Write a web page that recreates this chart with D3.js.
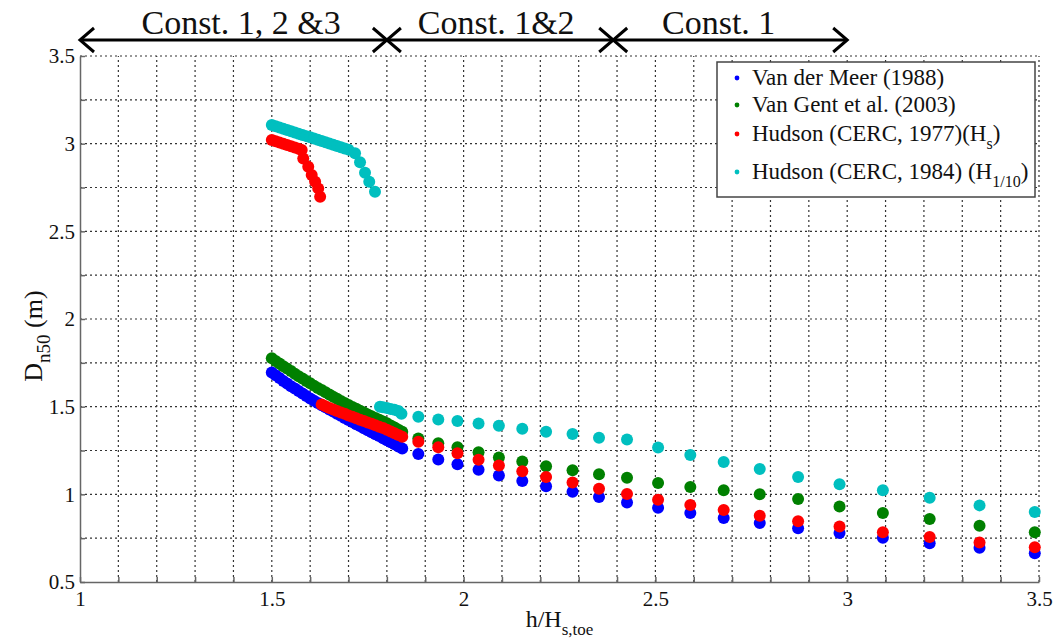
<!DOCTYPE html>
<html>
<head>
<meta charset="utf-8">
<script src="https://cdn.jsdelivr.net/npm/d3@7"></script>
<style>
  body { margin: 0; background: #fff; }
  text { font-family: "Liberation Serif", "Times New Roman", serif; fill: #111; }
  .grid line { stroke: #333; stroke-width: 1.2; stroke-dasharray: 2,3; }
  .axis path, .axis line { stroke: #666; stroke-width: 1.5; }
  .axis text { font-size: 21px; }
</style>
</head>
<body>
<script>
// dense part, 1.50 .. 1.84
var denseX = [1.50,1.51,1.52,1.53,1.54,1.55,1.56,1.57,1.58,1.59,1.60,1.61,1.62,1.63,1.64,1.65,1.66,1.67,
  1.68,1.69,1.70,1.71,1.72,1.73,1.74,1.75,1.76,1.77,1.78,1.79,1.80,1.81,1.82,1.83,1.84];
var blueDenseY = [1.695,1.679,1.663,1.647,1.632,1.617,1.603,1.589,1.575,1.561,1.547,1.534,1.521,1.508,
  1.496,1.484,1.472,1.460,1.448,1.436,1.424,1.412,1.400,1.389,1.377,1.366,1.354,1.343,1.332,1.320,
  1.309,1.297,1.285,1.273,1.262];
var greenDenseY = [1.776,1.761,1.746,1.731,1.717,1.703,1.688,1.674,1.660,1.646,1.633,1.620,1.607,1.595,
  1.582,1.570,1.557,1.545,1.533,1.521,1.509,1.498,1.488,1.477,1.467,1.456,1.446,1.436,1.425,1.415,
  1.405,1.393,1.381,1.369,1.357];
var redLowX = [1.63,1.64,1.65,1.66,1.67,1.68,1.69,1.70,1.71,1.72,1.73,1.74,1.75,1.76,1.77,1.78,1.79,
  1.80,1.81,1.82,1.83,1.84];
var redLowY = [1.512,1.502,1.493,1.484,1.475,1.467,1.459,1.450,1.442,1.434,1.426,1.418,1.410,1.402,
  1.394,1.386,1.378,1.369,1.359,1.349,1.339,1.328];
var redHighX = [1.50,1.51,1.52,1.53,1.54,1.55,1.56,1.57,1.578,1.582,1.595,1.604,1.613,1.621,1.626];
var redHighY = [3.021,3.014,3.006,2.999,2.992,2.985,2.978,2.971,2.964,2.916,2.868,2.821,2.783,2.745,2.697];
var cyanHighX = [1.50,1.51,1.52,1.53,1.54,1.55,1.56,1.57,1.58,1.59,1.60,1.61,1.62,1.63,1.64,1.65,1.66,
  1.67,1.68,1.69,1.70,1.717,1.73,1.743,1.754,1.769];
var cyanHighY = [3.106,3.099,3.092,3.085,3.078,3.071,3.064,3.057,3.050,3.043,3.036,3.029,3.022,3.015,
  3.008,3.001,2.994,2.987,2.980,2.973,2.966,2.945,2.894,2.834,2.783,2.726];
var cyanLowX = [1.782,1.79,1.80,1.81,1.82,1.83,1.838];
var cyanLowY = [1.500,1.497,1.492,1.487,1.482,1.475,1.460];

// sparse part
var sparseX = [1.882,1.934,1.984,2.039,2.092,2.153,2.215,2.284,2.353,2.426,2.507,2.591,2.678,2.772,
  2.872,2.980,3.093,3.215,3.345,3.489];
var blueSparseY = [1.230,1.199,1.171,1.140,1.107,1.076,1.046,1.015,0.985,0.954,0.924,0.893,0.865,0.836,
  0.807,0.779,0.752,0.721,0.695,0.664];
var greenSparseY = [1.319,1.291,1.268,1.240,1.210,1.187,1.160,1.137,1.115,1.094,1.065,1.042,1.023,1.000,
  0.973,0.931,0.893,0.859,0.821,0.784];
var redSparseY = [1.300,1.268,1.234,1.197,1.164,1.132,1.099,1.067,1.032,1.002,0.969,0.939,0.910,0.878,
  0.847,0.817,0.784,0.756,0.725,0.698];
var cyanSparseY = [1.442,1.427,1.418,1.404,1.391,1.374,1.357,1.344,1.323,1.313,1.267,1.225,1.185,1.145,
  1.099,1.057,1.023,0.981,0.937,0.899];

var xTickLabels = [1, 1.5, 2, 2.5, 3, 3.5];
var yTickLabels = [0.5, 1, 1.5, 2, 2.5, 3, 3.5];

var constEdges = [1.0, 1.8, 2.39, 3.0];
var constLabels = ["Const. 1, 2 &3", "Const. 1&2", "Const. 1"];
var constLabelX = [1.42, 2.085, 2.665];

var legendMain = ["Van der Meer (1988)", "Van Gent et al. (2003)", "Hudson (CERC, 1977)(H", "Hudson (CERC, 1984) (H"];
var legendSub = ["", "", "s", "1/10"];
var legendTail = ["", "", ")", ")"];
var colors = ["#0000ff", "#008000", "#ff0000", "#00bfbf"];

function pairs(xs, ys) { return xs.map(function(v, i) { return [v, ys[i]]; }); }

var series = [
  pairs(denseX, blueDenseY).concat(pairs(sparseX, blueSparseY)),
  pairs(denseX, greenDenseY).concat(pairs(sparseX, greenSparseY)),
  pairs(redHighX, redHighY).concat(pairs(redLowX, redLowY), pairs(sparseX, redSparseY)),
  pairs(cyanHighX, cyanHighY).concat(pairs(cyanLowX, cyanLowY), pairs(sparseX, cyanSparseY))
];

var W = 1056, H = 643;
var pL = 80, pR = 1039, pT = 56, pB = 582;

var svg = d3.select("body").append("svg").attr("width", W).attr("height", H);
svg.append("rect").attr("width", W).attr("height", H).attr("fill", "#fff");

var x = d3.scaleLinear().domain([1, 3.5]).range([pL, pR]);
var y = d3.scaleLinear().domain([0.5, 3.5]).range([pB, pT]);

// grid
var grid = svg.append("g").attr("class", "grid");
grid.selectAll(".vx").data(d3.range(11, 36).map(function(d) { return d / 10; }))
  .enter().append("line")
  .attr("x1", d => x(d)).attr("x2", d => x(d)).attr("y1", y(0.5)).attr("y2", y(3.5));
grid.selectAll(".hy").data(d3.range(3, 15).map(function(d) { return d / 4; }))
  .enter().append("line")
  .attr("y1", d => y(d)).attr("y2", d => y(d)).attr("x1", x(1)).attr("x2", x(3.5));

// axes
var fmt = function(d) { return xTickLabels.indexOf(+d.toFixed(2)) >= 0 ? d3.format("")(+d.toFixed(2)) : ""; };
svg.append("g").attr("class", "axis")
  .attr("transform", "translate(0," + pB + ")")
  .call(d3.axisBottom(x).tickValues(d3.range(10, 36).map(d => d / 10))
    .tickSize(-5).tickSizeOuter(0).tickPadding(9).tickFormat(fmt));
svg.append("g").attr("class", "axis")
  .attr("transform", "translate(" + pL + ",0)")
  .call(d3.axisLeft(y).tickValues(d3.range(2, 15).map(d => d / 4))
    .tickSize(-5).tickSizeOuter(0).tickPadding(5)
    .tickFormat(d => yTickLabels.indexOf(d) >= 0 ? d3.format("")(d) : ""));

// points
series.forEach(function(pts, i) {
  svg.append("g").selectAll("circle").data(pts).enter().append("circle")
    .attr("cx", d => x(d[0])).attr("cy", d => y(d[1])).attr("r", 6)
    .attr("fill", colors[i]);
});

// legend
var lg = svg.append("g");
lg.append("rect").attr("x", 717).attr("y", 62).attr("width", 318).attr("height", 135)
  .attr("fill", "#fff").attr("stroke", "#444").attr("stroke-width", 1.5);
var rowBase = [85, 112, 141, 179];
legendMain.forEach(function(t, i) {
  lg.append("circle").attr("cx", 737).attr("cy", rowBase[i] - 7).attr("r", 2.4).attr("fill", colors[i]);
  var tx = lg.append("text").attr("x", 752).attr("y", rowBase[i]).style("font-size", "23px").text(t);
  if (legendSub[i]) {
    tx.append("tspan").attr("dy", 8).style("font-size", "16px").text(legendSub[i]);
    tx.append("tspan").attr("dy", -8).text(legendTail[i]);
  }
});

// constraint arrows
var arr = svg.append("g").attr("stroke", "#000").attr("stroke-width", 3).attr("fill", "none");
var ay = 40;
for (var i = 0; i < 3; i++) {
  var a = x(constEdges[i]), b = x(constEdges[i + 1]);
  arr.append("line").attr("x1", a).attr("x2", b).attr("y1", ay).attr("y2", ay);
  arr.append("path").attr("d", "M" + (a + 14) + "," + (ay - 12) + "L" + a + "," + ay + "L" + (a + 14) + "," + (ay + 12));
  arr.append("path").attr("d", "M" + (b - 14) + "," + (ay - 12) + "L" + b + "," + ay + "L" + (b - 14) + "," + (ay + 12));
  svg.append("text").attr("x", x(constLabelX[i])).attr("y", 34)
    .attr("text-anchor", "middle").style("font-size", "34px").text(constLabels[i]);
}

// axis titles
var xl = svg.append("text").attr("x", (pL + pR) / 2).attr("y", 627)
  .attr("text-anchor", "middle").style("font-size", "24px").text("h/H");
xl.append("tspan").attr("dy", 8).style("font-size", "17px").text("s,toe");

var yl = svg.append("text").attr("transform", "translate(42,336) rotate(-90)")
  .attr("text-anchor", "middle").style("font-size", "26px").text("D");
yl.append("tspan").attr("dy", 8).style("font-size", "19px").text("n50");
yl.append("tspan").attr("dy", -8).text(" (m)");
</script>
</body>
</html>
